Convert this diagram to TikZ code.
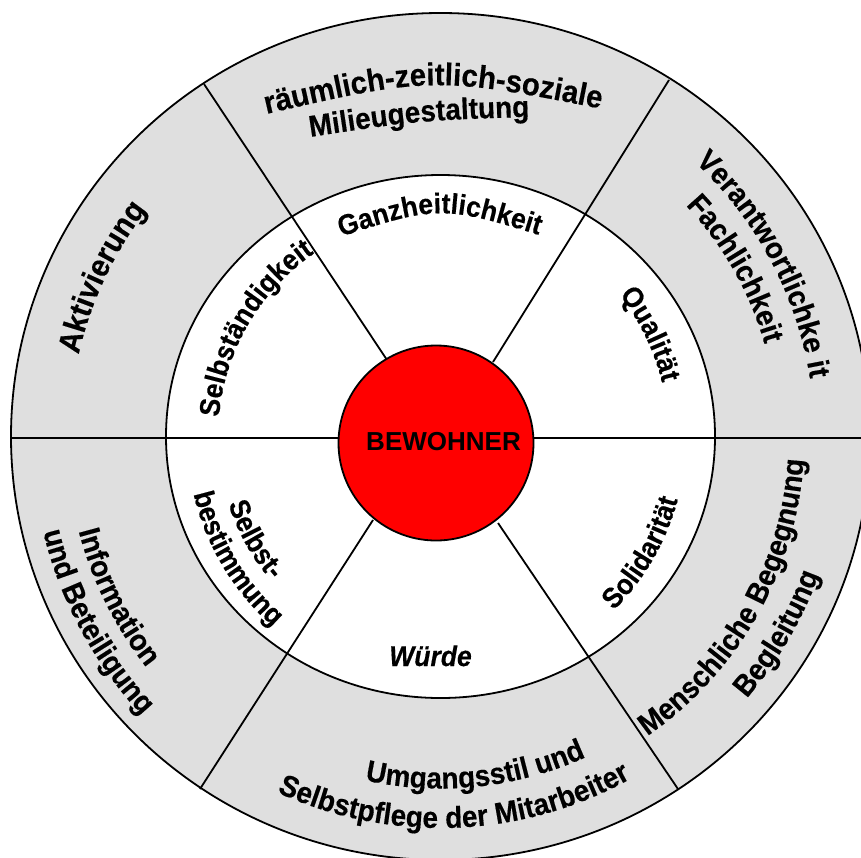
\documentclass[tikz,border=0pt]{standalone}
\usepackage{fontspec}
\setmainfont{Liberation Sans}
% slightly narrowed, slightly heavier face for the ring labels
\newfontfamily\wheelface{Liberation Sans}[FakeStretch=0.93, FakeBold=0.4]
\usetikzlibrary{decorations.text}

\definecolor{ringgray}{RGB}{223,223,223}
\definecolor{hubred}{RGB}{255,0,0}

% type sizes for the outer ring and for the inner ring
\newcommand\ringfont{\wheelface\fontsize{30}{36}\selectfont\bfseries}
\newcommand\bigringfont{\wheelface\fontsize{31.5}{38}\selectfont\bfseries}
\newcommand\corefont{\wheelface\fontsize{28.5}{34}\selectfont\bfseries}

\tikzset{
  rim/.style={draw=black, line width=1.8pt},
  spoke/.style={draw=black, line width=1.8pt},
  curvedlabel/.style={decorate, decoration={text along path, text align=center, text={#1}}},
}

\begin{document}
\begin{tikzpicture}[x=1pt,y=1pt]
\useasboundingbox (0,0) rectangle (861,-857);
\clip (0,0) rectangle (861,-857);

\coordinate (C) at (440.5,-436.5);

% grey outer ring and white inner ring
\fill[ringgray] (C) ellipse[x radius=429.5, y radius=423.5];
\draw[rim] (C) ellipse[x radius=429.5, y radius=423.5];
\fill[white] (C) ellipse[x radius=274.5, y radius=261.5];
\draw[rim] (C) ellipse[x radius=274.5, y radius=261.5];

% spokes from the rim to the hub
\coordinate (w-o) at (11,-438);  \coordinate (w-i) at (338,-438);
\coordinate (e-o) at (861,-438); \coordinate (e-i) at (534,-438);
\coordinate (nw-o) at (204,-84); \coordinate (nw-i) at (387,-360);
\coordinate (ne-o) at (669,-80); \coordinate (ne-i) at (493,-362);
\coordinate (sw-o) at (200,-789); \coordinate (sw-i) at (373,-520);
\coordinate (se-o) at (678,-789); \coordinate (se-i) at (498,-523);
\draw[spoke] (w-o) -- (w-i);
\draw[spoke] (e-o) -- (e-i);
\draw[spoke] (nw-o) -- (nw-i);
\draw[spoke] (ne-o) -- (ne-i);
\draw[spoke] (sw-o) -- (sw-i);
\draw[spoke] (se-o) -- (se-i);

% hub
\node[circle, fill=hubred, draw=black, line width=1.8pt, minimum size=195pt, inner sep=0pt] (hub) at (436,-443) {};
\node[font=\fontsize{26}{30}\selectfont\bfseries, anchor=base, inner sep=0pt] (hubtext) at (443.5,-450) {BEWOHNER};

% outer ring labels
\path[curvedlabel={|\bigringfont|räumlich-zeitlich-soziale}] (245,-119) .. controls (433,-75) .. (622,-113);
\path[curvedlabel={|\ringfont|Milieugestaltung}] (300,-138.5) .. controls (420,-120.2) .. (540,-116.6);
\path[curvedlabel={|\bigringfont|Aktivierung}] ([shift={(179.8:371)}]C) arc[start angle=179.8, end angle=129.8, radius=371];
\path[curvedlabel={|\ringfont|Verantwortlichke it}] ([shift={(58:374)}]C) arc[start angle=58, end angle=-2, radius=374];
\path[curvedlabel={|\ringfont|Fachlichkeit}] ([shift={(54.6:337)}]C) arc[start angle=54.6, end angle=4.6, radius=337];
\path[curvedlabel={|\ringfont|Menschliche Begegnung}] ([shift={(-64.5:364)}]C) arc[start angle=-64.5, end angle=5.5, radius=364];
\path[curvedlabel={|\ringfont|Begleitung}] ([shift={(-55.3:403)}]C) arc[start angle=-55.3, end angle=-5.3, radius=403];
\path[curvedlabel={|\ringfont|Information}] ([shift={(181.4:374)}]C) arc[start angle=181.4, end angle=231.4, radius=374];
\path[curvedlabel={|\ringfont|und Beteiligung}] ([shift={(183.3:408.6)}]C) arc[start angle=183.3, end angle=233.3, radius=408.6];
\path[curvedlabel={|\ringfont|Umgangsstil und}] ([shift={(246:352)}]C) arc[start angle=246, end angle=306, radius=352];
\path[curvedlabel={|\ringfont|Selbstpflege der Mitarbeiter}] ([shift={(237.2:391.5)}]C) arc[start angle=237.2, end angle=307.2, radius=391.5];

% inner ring labels
\path[curvedlabel={|\corefont|Ganzheitlichkeit}] (325,-242) .. controls (440,-204) .. (555,-240);
\path[curvedlabel={|\corefont|Selbständigkeit}] ([shift={(184.8:222.5)}]C) arc[start angle=184.8, end angle=114.8, radius=222.5];
\path[curvedlabel={|\corefont|Qualität}] ([shift={(51:228)}]C) arc[start angle=51, end angle=1, radius=228];
\path[curvedlabel={|\corefont|Solidarität}] ([shift={(-55:245.5)}]C) arc[start angle=-55, end angle=-5, radius=245.5];
\path[curvedlabel={|\corefont|Selbst-}] ([shift={(184:222.5)}]C) arc[start angle=184, end angle=234, radius=222.5];
\path[curvedlabel={|\corefont|bestimmung}] ([shift={(185.9:253.5)}]C) arc[start angle=185.9, end angle=235.9, radius=253.5];
\node[font=\wheelface\fontsize{28.5}{34}\selectfont\bfseries\itshape, anchor=base, inner sep=0pt] (dignity) at (430.5,-666) {Würde};

\end{tikzpicture}
\end{document}
